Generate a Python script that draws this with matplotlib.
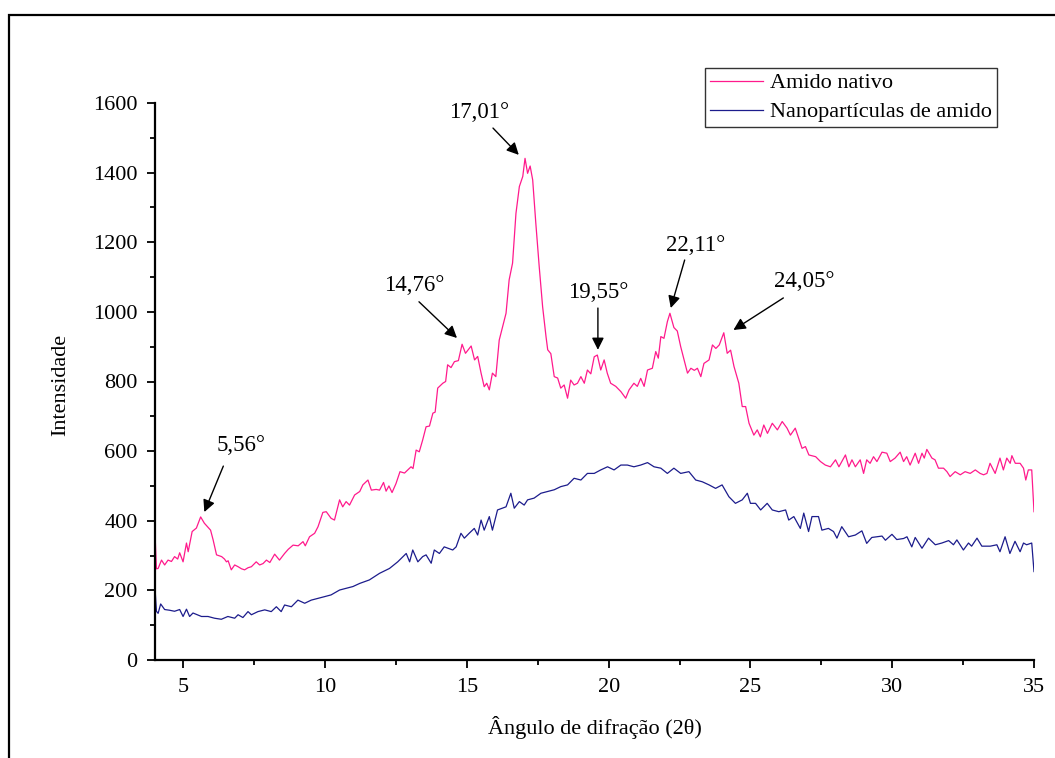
import matplotlib
matplotlib.use("Agg")
import matplotlib.pyplot as plt
from matplotlib.patches import Rectangle
from matplotlib.ticker import MultipleLocator

plt.rcParams['font.family'] = ['Liberation Serif', 'DejaVu Serif']

# ---------------- data ----------------
native_x = [4.00, 4.05, 4.11, 4.23, 4.34, 4.46, 4.58, 4.69, 4.80, 4.87, 4.99, 5.11, 5.17, 5.31, 5.46,
            5.61, 5.74, 5.96, 6.05, 6.17, 6.35, 6.45, 6.52, 6.58, 6.69, 6.81, 6.93, 7.05, 7.16, 7.28,
            7.40, 7.57, 7.69, 7.81, 7.93, 8.05, 8.22, 8.39, 8.57, 8.70, 8.87, 9.05, 9.22, 9.30, 9.45,
            9.63, 9.75, 9.92, 10.04, 10.21, 10.33, 10.51, 10.62, 10.74, 10.86, 11.04, 11.22, 11.33,
            11.51, 11.63, 11.80, 11.92, 12.06, 12.15, 12.25, 12.36, 12.50, 12.64, 12.80, 12.90, 13.03,
            13.10, 13.21, 13.32, 13.44, 13.56, 13.68, 13.80, 13.88, 13.97, 14.15, 14.25, 14.32, 14.44,
            14.56, 14.70, 14.83, 14.95, 15.15, 15.27, 15.38, 15.50, 15.61, 15.70, 15.79, 15.90, 16.02,
            16.14, 16.38, 16.49, 16.61, 16.73, 16.85, 16.97, 17.05, 17.14, 17.23, 17.32, 17.43, 17.55,
            17.67, 17.79, 17.85, 17.96, 18.08, 18.20, 18.31, 18.43, 18.55, 18.66, 18.78, 18.90, 19.02,
            19.14, 19.25, 19.37, 19.49, 19.60, 19.72, 19.84, 19.95, 20.07, 20.25, 20.43, 20.60, 20.72,
            20.89, 21.01, 21.13, 21.25, 21.37, 21.54, 21.66, 21.75, 21.84, 21.95, 22.07, 22.16, 22.30,
            22.42, 22.54, 22.66, 22.78, 22.90, 23.02, 23.13, 23.25, 23.36, 23.54, 23.66, 23.78, 23.90,
            24.06, 24.18, 24.30, 24.42, 24.59, 24.71, 24.83, 24.95, 25.12, 25.24, 25.35, 25.47, 25.60,
            25.77, 25.95, 26.12, 26.29, 26.41, 26.58, 26.70, 26.82, 26.94, 27.06, 27.30, 27.47, 27.64,
            27.82, 28.00, 28.12, 28.35, 28.47, 28.58, 28.70, 28.87, 28.99, 29.10, 29.22, 29.34, 29.46,
            29.64, 29.81, 29.93, 30.10, 30.28, 30.40, 30.51, 30.63, 30.81, 30.93, 31.05, 31.13, 31.22,
            31.40, 31.51, 31.63, 31.81, 31.93, 32.04, 32.22, 32.40, 32.57, 32.75, 32.93, 33.10, 33.22,
            33.34, 33.45, 33.63, 33.80, 33.92, 34.04, 34.16, 34.22, 34.34, 34.51, 34.63, 34.71, 34.80,
            34.92, 35.00]
native_y = [365, 262, 263, 287, 273, 287, 283, 297, 290, 308, 282, 336, 311, 369, 379,
            411, 393, 373, 345, 302, 297, 290, 282, 285, 259, 273, 268, 262, 259, 265,
            268, 282, 273, 277, 287, 280, 304, 287, 306, 318, 330, 328, 340, 328, 354,
            364, 383, 424, 426, 407, 402, 460, 440, 455, 445, 474, 484, 503,
            517, 488, 490, 488, 510, 485, 500, 481, 507, 541, 537, 545, 555,
            550, 603, 598, 632, 670, 672, 709, 712, 781, 795, 800, 848, 840,
            857, 860, 907, 881, 902, 862, 872, 824, 785, 795, 776, 824, 814,
            919, 996, 1092, 1140, 1283, 1360, 1389, 1441, 1398, 1419, 1379, 1255, 1130,
            1015, 929, 891, 880, 814, 810, 781, 790, 752, 804, 790, 795, 814,
            795, 833, 822, 871, 876, 833, 862, 824, 795, 786, 771, 752, 776,
            795, 786, 809, 786, 833, 838, 886, 867, 929, 924, 972, 996, 955,
            945, 900, 862, 824, 838, 832, 838, 814, 852, 862, 905, 895, 905,
            940, 881, 890, 843, 795, 728, 728, 680, 646, 661, 641, 675, 651,
            680, 661, 685, 666, 646, 666, 637, 608, 613, 589, 584, 570, 560,
            555, 575, 555, 589, 555, 575, 555, 575, 536, 575, 565, 584, 570,
            597, 594, 570, 580, 597, 570, 584, 560, 594, 565, 594, 580, 605,
            580, 575, 551, 551, 541, 527, 541, 532, 541, 536, 546, 536, 532,
            536, 565, 536, 580, 546, 580, 565, 587, 565, 565, 551, 517, 546,
            546, 426]

nano_x = [4.00, 4.05, 4.11, 4.20, 4.34, 4.51, 4.69, 4.87, 4.99, 5.11, 5.22, 5.34, 5.64, 5.87, 6.10,
          6.34, 6.57, 6.81, 6.93, 7.10, 7.28, 7.40, 7.63, 7.87, 8.10, 8.28, 8.45, 8.57, 8.81, 9.04,
          9.28, 9.51, 9.75, 9.98, 10.21, 10.51, 10.75, 10.98, 11.22, 11.56, 11.92, 12.27, 12.56,
          12.86, 12.98, 13.09, 13.27, 13.44, 13.56, 13.74, 13.85, 14.03, 14.20, 14.50, 14.62, 14.79,
          14.91, 15.08, 15.26, 15.38, 15.50, 15.61, 15.79, 15.90, 16.08, 16.38, 16.55, 16.67, 16.85,
          17.02, 17.14, 17.37, 17.61, 17.85, 18.08, 18.31, 18.55, 18.78, 19.02, 19.25, 19.49, 19.72,
          19.96, 20.19, 20.43, 20.66, 20.89, 21.13, 21.37, 21.60, 21.84, 22.07, 22.30, 22.54, 22.83,
          23.07, 23.30, 23.54, 23.77, 24.00, 24.24, 24.47, 24.71, 24.89, 25.00, 25.18, 25.36, 25.59,
          25.77, 26.00, 26.24, 26.35, 26.53, 26.76, 26.88, 27.05, 27.17, 27.40, 27.52, 27.75, 27.93,
          28.05, 28.22, 28.46, 28.70, 28.93, 29.10, 29.28, 29.64, 29.76, 29.99, 30.16, 30.40, 30.52,
          30.69, 30.81, 31.05, 31.28, 31.52, 31.75, 31.99, 32.16, 32.28, 32.51, 32.69, 32.80, 32.99,
          33.16, 33.46, 33.69, 33.80, 33.98, 34.15, 34.33, 34.51, 34.63, 34.74, 34.92, 35.00]
nano_y = [207, 140, 134, 161, 145, 143, 140, 145, 125, 146, 125, 135, 125, 125, 120,
          117, 125, 120, 130, 122, 139, 130, 139, 144, 139, 153, 139, 158, 153, 172,
          163, 172, 177, 182, 187, 201, 206, 211, 220, 230, 249, 263, 282,
          306, 282, 316, 282, 297, 302, 278, 316, 306, 325, 316, 325, 364,
          350, 364, 378, 359, 402, 373, 412, 373, 431, 440, 479, 436, 455,
          445, 460, 465, 479, 484, 489, 498, 503, 522, 517, 536, 536, 546,
          555, 546, 560, 560, 555, 560, 567, 555, 551, 536, 551, 536, 541,
          517, 512, 503, 493, 503, 469, 450, 460, 479, 450, 450, 431, 450,
          431, 426, 431, 402, 412, 378, 422, 369, 412, 412, 373, 378, 369,
          350, 383, 354, 359, 371, 335, 352, 356, 344, 361, 346, 349, 354,
          325, 352, 321, 350, 331, 336, 343, 331, 345, 316, 336, 327, 350,
          327, 327, 331, 311, 354, 306, 341, 311, 336, 331, 336, 254]

series_labels = ["Amido nativo", "Nanopartículas de amido"]
peak_labels = ["5,56°", "14,76°", "17,01°", "19,55°", "22,11°", "24,05°"]
peak_heads = [(5.74, 425), (14.65, 925), (16.83, 1451), (19.62, 891), (22.19, 1011), (24.40, 948)]
peak_tails = [(6.41, 557), (13.31, 1029), (15.92, 1528), (19.62, 1011), (22.68, 1149), (26.16, 1040)]
peak_text = [(7.05, 615), (13.14, 1075), (15.43, 1574), (19.62, 1057), (23.07, 1192), (26.90, 1086)]

# ---------------- figure ----------------
W, H = 1055, 758
fig = plt.figure(figsize=(W / 100, H / 100), dpi=100)
ax = fig.add_axes([155 / W, 1 - 660 / H, (1034 - 155) / W, (660 - 103) / H])

ax.plot(native_x, native_y, color='#ff1a8c', lw=0.9, label=series_labels[0])
ax.plot(nano_x, nano_y, color='#1c1c8c', lw=0.9, label=series_labels[1])

ax.set_xlim(4, 35)
ax.set_ylim(0, 1600)
ax.xaxis.set_major_locator(MultipleLocator(5))
ax.xaxis.set_minor_locator(MultipleLocator(2.5))
ax.yaxis.set_major_locator(MultipleLocator(200))
ax.yaxis.set_minor_locator(MultipleLocator(100))

for s in ['top', 'right']:
    ax.spines[s].set_visible(False)
for s in ['left', 'bottom']:
    ax.spines[s].set_linewidth(1.6)
ax.tick_params(which='major', direction='out', length=6, width=1.3, labelsize=16)
ax.tick_params(which='minor', direction='out', length=3.5, width=1.3)
ax.tick_params(axis='y', which='major', pad=6.5)
ax.tick_params(axis='x', which='major', pad=7)

ax.set_xlabel("Ângulo de difração (2θ)", fontsize=16)
ax.set_ylabel("Intensidade", fontsize=16)
ax.xaxis.set_label_coords(0.5, -0.10)
ax.yaxis.set_label_coords(-0.097, 0.494)

for lab, head, tail, txt in zip(peak_labels, peak_heads, peak_tails, peak_text):
    ax.annotate('', xy=head, xytext=tail,
                arrowprops=dict(arrowstyle='-|>', color='black', lw=1.0,
                                mutation_scale=18, shrinkA=0, shrinkB=0))
    ax.text(txt[0], txt[1], lab, fontsize=16.5, ha='center', va='center')

leg = ax.legend(loc='upper left', bbox_to_anchor=(705 / W, 1 - 68 / H),
                bbox_transform=fig.transFigure, fontsize=16, frameon=True,
                fancybox=False, borderpad=0.22, handlelength=2.4, handletextpad=0.3,
                labelspacing=0.38, borderaxespad=0)
leg.get_frame().set_edgecolor('black')
leg.get_frame().set_linewidth(1.0)

fig.patches.append(Rectangle((9 / W, -0.2), 1.5, 1 - 15 / H + 0.2, transform=fig.transFigure,
                             fill=False, edgecolor='black', lw=1.6, clip_on=False))

fig.savefig('out.png', dpi=100)
